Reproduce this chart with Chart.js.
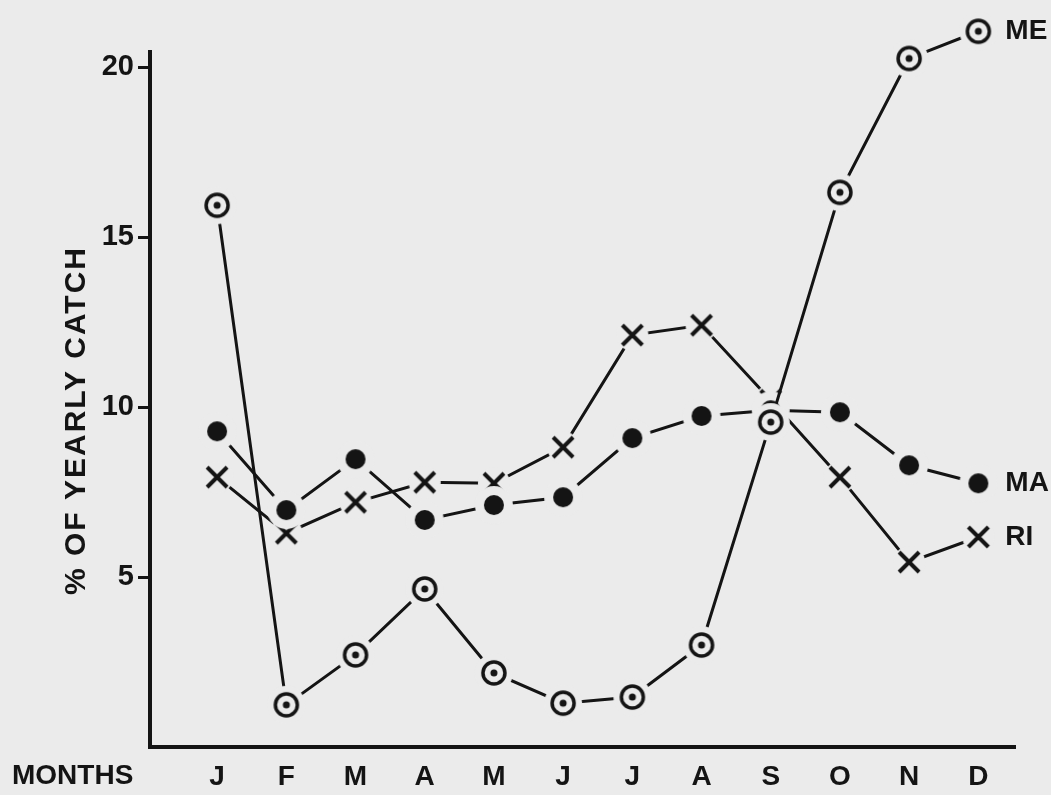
<!DOCTYPE html>
<html>
<head>
<meta charset="utf-8">
<title>% of yearly catch by month</title>
<script src="https://cdn.jsdelivr.net/npm/chart.js@4.4.1/dist/chart.umd.min.js"></script>
<style>
  html, body { margin: 0; padding: 0; background: #ebebeb; }
  #wrap { width: 1051px; height: 795px; }
</style>
</head>
<body>
<div id="wrap"><canvas id="catch-chart" width="1051" height="795"></canvas></div>
<script>
// Monthly share of the yearly catch, three states
const months = ["J", "F", "M", "A", "M", "J", "J", "A", "S", "O", "N", "D"];
const meValues = [15.94, 1.24, 2.71, 4.65, 2.18, 1.29, 1.47, 3.0, 9.56, 16.32, 20.26, 21.06];
const maValues = [9.29, 6.97, 8.47, 6.68, 7.12, 7.35, 9.09, 9.74, 9.91, 9.85, 8.29, 7.76];
const riValues = [7.94, 6.29, 7.2, 7.79, 7.76, 8.82, 12.12, 12.41, 10.2, 7.94, 5.44, 6.18];
const yTicks = [5, 10, 15, 20];

const BG = '#ebebeb';
const INK = '#141414';
const FAMILY = '"Liberation Sans", Arial, sans-serif';

// point markers drawn on a small canvas, with a halo in the paper colour
// so the connecting lines stop short of each mark
function makeMarker(kind) {
    const c = document.createElement('canvas');
    c.width = 44;
    c.height = 44;
    const g = c.getContext('2d');
    const m = 22;
    g.fillStyle = BG;
    g.beginPath();
    g.arc(m, m, kind === 'cross' ? 16 : 19, 0, Math.PI * 2);
    g.fill();
    g.strokeStyle = INK;
    g.fillStyle = INK;
    if (kind === 'ring') {
        g.lineWidth = 3.5;
        g.beginPath();
        g.arc(m, m, 11, 0, Math.PI * 2);
        g.stroke();
        g.beginPath();
        g.arc(m, m, 3.5, 0, Math.PI * 2);
        g.fill();
    } else if (kind === 'dot') {
        g.beginPath();
        g.arc(m, m, 10, 0, Math.PI * 2);
        g.fill();
    } else {
        g.lineWidth = 4;
        g.beginPath();
        g.moveTo(m - 10, m - 10);
        g.lineTo(m + 10, m + 10);
        g.moveTo(m + 10, m - 10);
        g.lineTo(m - 10, m + 10);
        g.stroke();
    }
    return c;
}

function series(label, values, marker) {
    return {
        label: label,
        data: values.map((v, i) => ({ x: i, y: v })),
        borderColor: INK,
        borderWidth: 3,
        tension: 0,
        pointStyle: makeMarker(marker),
        // large radius keeps marks just above the plot top from being skipped
        pointRadius: 28,
        pointHoverRadius: 28,
        clip: false
    };
}

// axis titles and the labels at the end of each line
const labelPlugin = {
    id: 'catchLabels',
    afterDatasetsDraw(chart) {
        const ctx = chart.ctx;
        const area = chart.chartArea;
        ctx.save();
        ctx.font = 'bold 28px ' + FAMILY;
        ctx.fillStyle = INK;
        ctx.textBaseline = 'middle';

        ctx.textAlign = 'left';
        ctx.fillText('MONTHS', 12, area.bottom + 29);

        chart.data.datasets.forEach((ds, i) => {
            const pts = chart.getDatasetMeta(i).data;
            const last = pts[pts.length - 1];
            ctx.fillText(ds.label, last.x + 27, last.y);
        });

        ctx.translate(77, (area.top + area.bottom) / 2 + 21);
        ctx.rotate(-Math.PI / 2);
        ctx.font = 'bold 30px ' + FAMILY;
        ctx.letterSpacing = '2px';
        ctx.textAlign = 'center';
        ctx.fillText('% OF YEARLY CATCH', 0, 0);
        ctx.restore();
    }
};

const catchChart = new Chart(document.getElementById('catch-chart'), {
    type: 'line',
    data: {
        datasets: [
            series('ME', meValues, 'ring'),
            series('MA', maValues, 'dot'),
            series('RI', riValues, 'cross')
        ]
    },
    options: {
        responsive: false,
        animation: false,
        layout: { padding: { left: 0, right: 36, top: 52, bottom: 0 } },
        plugins: {
            legend: { display: false },
            tooltip: { enabled: false }
        },
        scales: {
            x: {
                type: 'linear',
                min: -0.97,
                max: 11.53,
                afterBuildTicks: s => { s.ticks = months.map((m, i) => ({ value: i })); },
                afterFit: s => { s.height = 48; },
                grid: { display: false },
                border: { color: INK, width: 4 },
                ticks: {
                    autoSkip: false,
                    maxRotation: 0,
                    padding: 5,
                    color: INK,
                    font: { family: FAMILY, size: 28, weight: 'bold' },
                    callback: v => months[v]
                }
            },
            y: {
                min: 0,
                max: 20.45,
                afterBuildTicks: s => { s.ticks = yTicks.map(v => ({ value: v })); },
                afterFit: s => { s.width = 150; },
                grid: {
                    drawOnChartArea: false,
                    drawTicks: true,
                    tickLength: 12,
                    tickWidth: 3,
                    tickColor: INK
                },
                border: { color: INK, width: 4 },
                ticks: {
                    padding: 4,
                    color: INK,
                    font: { family: FAMILY, size: 29, weight: 'bold' }
                }
            }
        }
    },
    plugins: [labelPlugin]
});
</script>
</body>
</html>
